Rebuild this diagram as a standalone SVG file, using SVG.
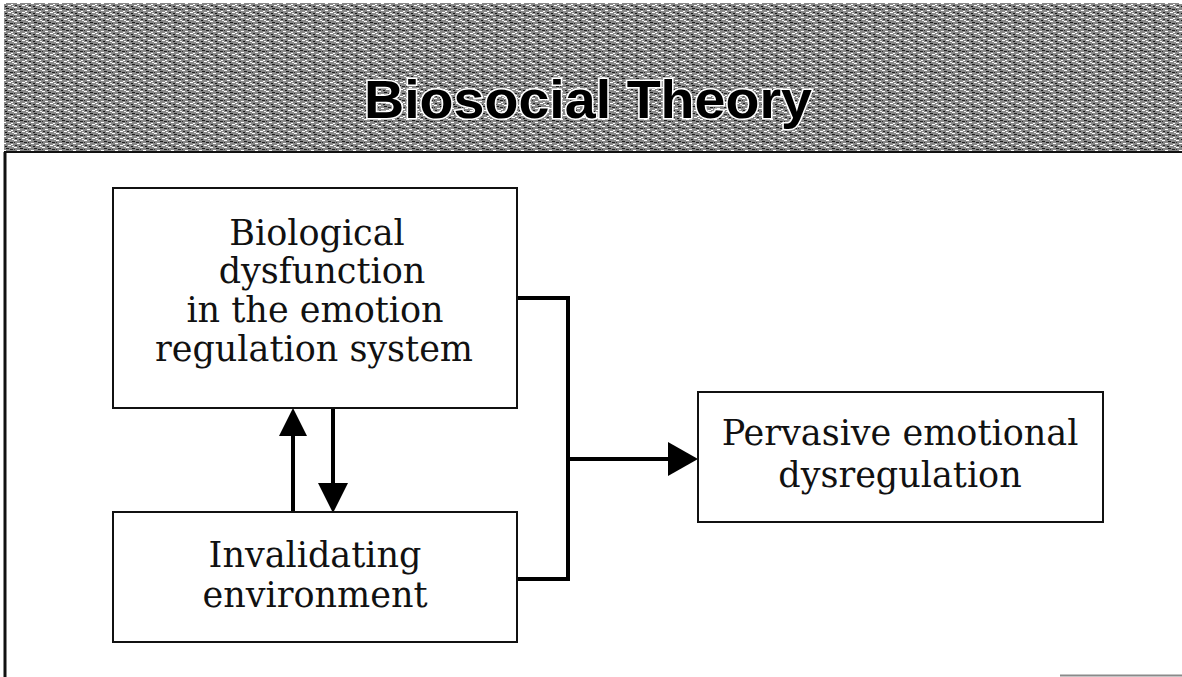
<svg xmlns="http://www.w3.org/2000/svg" width="1182" height="677" viewBox="0 0 1182 677">
  <style>
    .box { fill: #ffffff; stroke: #111111; stroke-width: 2; }
    .lbl { font-family: "DejaVu Serif", "Liberation Serif", serif; font-size: 35px; fill: #111111; text-anchor: middle; }
    .conn { fill: none; stroke: #000000; stroke-width: 4; stroke-linejoin: miter; stroke-linecap: butt; }
    .head { fill: #000000; stroke: none; }
    .title { font-family: "Liberation Sans", Arial, sans-serif; font-weight: bold; font-size: 53px; fill: #000000; stroke: #ffffff; stroke-width: 3; paint-order: stroke; }
  </style>
  <defs>
    <pattern id="ht" x="0" y="0" width="14" height="7" patternUnits="userSpaceOnUse">
      <rect width="14" height="7" fill="#888888"/>
      <rect x="0" y="0" width="3" height="1" fill="#ffffff"/>
      <rect x="6" y="1" width="3" height="1" fill="#1a1a1a"/>
      <rect x="3" y="3" width="3" height="1" fill="#ffffff"/>
      <rect x="10" y="2" width="3" height="1" fill="#222222"/>
      <rect x="1" y="5" width="2" height="1" fill="#222222"/>
      <rect x="8" y="5" width="3" height="1" fill="#ffffff"/>
      <rect x="5" y="6" width="2" height="1" fill="#1a1a1a"/>
      <rect x="11" y="4" width="2" height="1" fill="#ffffff"/>
      <rect x="12" y="6" width="2" height="1" fill="#f0f0f0"/>
      <rect x="0" y="2" width="1" height="1" fill="#333333"/>
    </pattern>
  </defs>

  <rect width="1182" height="677" fill="#ffffff"/>

  <!-- header band -->
  <g id="header">
    <rect x="4" y="3" width="1178" height="149" fill="url(#ht)"/>
    <line x1="4" y1="152" x2="1182" y2="152" stroke="#111111" stroke-width="2"/>
    <text class="title" x="364" y="118" textLength="448" lengthAdjust="spacingAndGlyphs">Biosocial Theory</text>
  </g>

  <!-- frame lines -->
  <line x1="5" y1="152" x2="5" y2="677" stroke="#111111" stroke-width="3"/>
  <line x1="1060" y1="675.5" x2="1182" y2="675.5" stroke="#8a8a8a" stroke-width="2"/>

  <!-- connectors -->
  <g id="connectors">
    <polyline class="conn" points="517,298 568,298 568,579 517,579"/>
    <line class="conn" x1="568" y1="459" x2="670" y2="459"/>
    <polygon class="head" points="698,459 668,442 668,476"/>
    <line class="conn" x1="293" y1="513" x2="293" y2="432"/>
    <polygon class="head" points="293,408 279,436 307,436"/>
    <line class="conn" x1="333" y1="408" x2="333" y2="486"/>
    <polygon class="head" points="333,513 318,483 348,483"/>
  </g>

  <g id="node-biological">
    <rect class="box" x="113" y="188" width="404" height="220"/>
    <text class="lbl" x="317" y="245">Biological</text>
    <text class="lbl" x="322" y="283">dysfunction</text>
    <text class="lbl" x="315" y="322">in the emotion</text>
    <text class="lbl" x="314" y="361">regulation system</text>
  </g>

  <g id="node-invalidating">
    <rect class="box" x="113" y="512" width="404" height="130"/>
    <text class="lbl" x="315" y="567">Invalidating</text>
    <text class="lbl" x="315" y="607">environment</text>
  </g>

  <g id="node-pervasive">
    <rect class="box" x="698" y="392" width="405" height="130"/>
    <text class="lbl" x="900" y="445">Pervasive emotional</text>
    <text class="lbl" x="900" y="487">dysregulation</text>
  </g>
</svg>
